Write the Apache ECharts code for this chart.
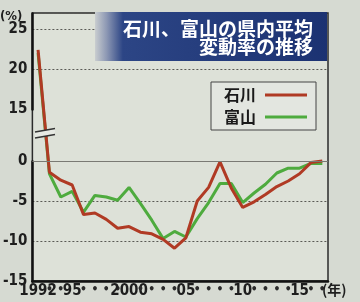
<!DOCTYPE html>
<html>
<head>
<meta charset="utf-8">
<script src="https://cdn.jsdelivr.net/npm/echarts@6/dist/echarts.min.js"></script>
<style>
  html, body { margin: 0; padding: 0; background: #d6dad2; }
  #main { width: 360px; height: 302px; }
</style>
</head>
<body>
<div id="main"></div>
<script>
// 年
const years = ['1992', '1993', '1994', '1995', '1996', '1997', '1998', '1999', '2000', '2001',
  '2002', '2003', '2004', '2005', '2006', '2007', '2008', '2009', '2010', '2011',
  '2012', '2013', '2014', '2015', '2016', '2017'];
// x軸の目盛りラベル（・は小さい点）
const xLabels = ['1992', '•', '•', '95', '•', '•', '•', '•', '2000', '•',
  '•', '•', '•', '05', '•', '•', '•', '•', '10', '•',
  '•', '•', '•', '15', '•', '•'];
// 県内平均変動率 (%)
const ishikawa = [22.4, -1.4, -2.4, -3.0, -6.7, -6.5, -7.3, -8.4, -8.2, -8.9,
  -9.1, -9.8, -10.9, -9.6, -5.0, -3.3, -0.1, -3.4, -5.8, -5.1,
  -4.2, -3.2, -2.5, -1.6, -0.2, 0.0];
const toyama = [22.0, -1.6, -4.5, -3.8, -6.4, -4.3, -4.5, -4.9, -3.3, -5.3,
  -7.4, -9.7, -8.8, -9.5, -7.2, -5.2, -2.8, -2.8, -5.2, -4.0,
  -2.9, -1.5, -0.9, -0.9, -0.3, -0.3];
const yTicks = [-15, -10, -5, 0, 15, 20, 25];

const labelFont = "'Liberation Sans Narrow', 'DejaVu Sans Condensed', 'Liberation Sans', sans-serif";
const jpFont = "'Noto Sans CJK JP', sans-serif";

const chart = echarts.init(document.getElementById('main'));
chart.setOption({
  backgroundColor: '#d6dad2',
  animation: false,
  grid: {
    left: 30, right: 32, top: 13, bottom: 21,
    show: true,
    backgroundColor: '#dde1d8',
    borderColor: '#2b2b2b',
    borderWidth: 1.5,
  },
  legend: {
    data: ['石川', '富山'],
    orient: 'vertical',
    left: 211,
    top: 82,
    align: 'right',
    icon: 'rect',
    itemWidth: 42,
    itemHeight: 3,
    itemGap: 6,
    padding: [5, 9, 5, 13],
    backgroundColor: '#e3e6e0',
    borderColor: '#444',
    borderWidth: 1,
    textStyle: { fontSize: 16, fontWeight: 'bold', color: '#1a1a1a', fontFamily: jpFont, padding: [0, 4, 0, 0] },
  },
  xAxis: {
    type: 'category',
    data: years,
    boundaryGap: true,
    axisLine: { onZero: false, lineStyle: { color: '#111', width: 2.5 } },
    axisTick: { show: false },
    axisLabel: {
      interval: 0,
      margin: 3,
      formatter: (v, i) => (xLabels[i] === '•' ? '{d|•}' : xLabels[i]),
      fontSize: 15,
      fontWeight: 'bold',
      color: '#1e1e1e',
      fontFamily: labelFont,
      rich: { d: { fontSize: 12, color: '#2a2a2a', fontWeight: 'bold' } },
    },
    splitLine: { show: false },
  },
  yAxis: {
    type: 'value',
    min: -15,
    max: 27,
    interval: 5,
    breaks: [{ start: 0, end: 15, gap: 6.5 }],
    breakArea: { show: false },
    axisLine: { show: true, lineStyle: { color: '#111', width: 2.5 } },
    axisTick: { show: false },
    axisLabel: {
      margin: 5,
      formatter: (v) => (yTicks.indexOf(v) >= 0 ? String(v) : ''),
      fontSize: 15,
      fontWeight: 'bold',
      color: '#1e1e1e',
      fontFamily: labelFont,
    },
    splitLine: { lineStyle: { color: '#5a5a55', width: 1, type: [2, 2] } },
  },
  series: [
    {
      name: '富山',
      type: 'line',
      data: toyama,
      showSymbol: false,
      lineStyle: { color: '#4eab3e', width: 3 },
      itemStyle: { color: '#4eab3e' },
      markLine: {
        silent: true,
        symbol: 'none',
        label: { show: false },
        lineStyle: { color: '#7a7a74', width: 1, type: 'solid' },
        data: [{ yAxis: 0 }],
      },
      z: 3,
    },
    {
      name: '石川',
      type: 'line',
      data: ishikawa,
      showSymbol: false,
      lineStyle: { color: '#b03a24', width: 3 },
      itemStyle: { color: '#b03a24' },
      z: 4,
    },
  ],
  graphic: [
    {
      type: 'rect',
      shape: { x: 95, y: 12, width: 232, height: 49 },
      style: {
        fill: new echarts.graphic.LinearGradient(0, 0, 1, 0, [
          { offset: 0, color: '#c9cdcf' },
          { offset: 0.05, color: '#8d98b4' },
          { offset: 0.12, color: '#2c4585' },
          { offset: 1, color: '#1c3272' },
        ]),
      },
      z: 50,
    },
    {
      type: 'text',
      x: 313, y: 29,
      style: { text: '石川、富山の県内平均', fill: '#fff', font: 'bold 19px ' + jpFont, textAlign: 'right', textVerticalAlign: 'middle' },
      z: 51,
    },
    {
      type: 'text',
      x: 313, y: 47,
      style: { text: '変動率の推移', fill: '#fff', font: 'bold 19px ' + jpFont, textAlign: 'right', textVerticalAlign: 'middle' },
      z: 51,
    },
    {
      type: 'text',
      x: 0, y: 10,
      style: { text: '(%)', fill: '#1e1e1e', font: 'bold 13px ' + labelFont },
      z: 51,
    },
    {
      type: 'text',
      x: 322, y: 283,
      style: { text: '(年)', fill: '#1e1e1e', font: 'bold 14px ' + jpFont },
      z: 51,
    },
    // 軸の省略記号
    {
      type: 'polygon',
      shape: { points: [[35, 132], [55, 128.5], [55, 134.5], [35, 138]] },
      style: { fill: '#e6e9e3' },
      z: 60,
    },
    {
      type: 'line',
      shape: { x1: 35, y1: 132, x2: 55, y2: 128.5 },
      style: { stroke: '#333', lineWidth: 1.5 },
      z: 61,
    },
    {
      type: 'line',
      shape: { x1: 35, y1: 138, x2: 55, y2: 134.5 },
      style: { stroke: '#333', lineWidth: 1.5 },
      z: 61,
    },
  ],
});
</script>
</body>
</html>
